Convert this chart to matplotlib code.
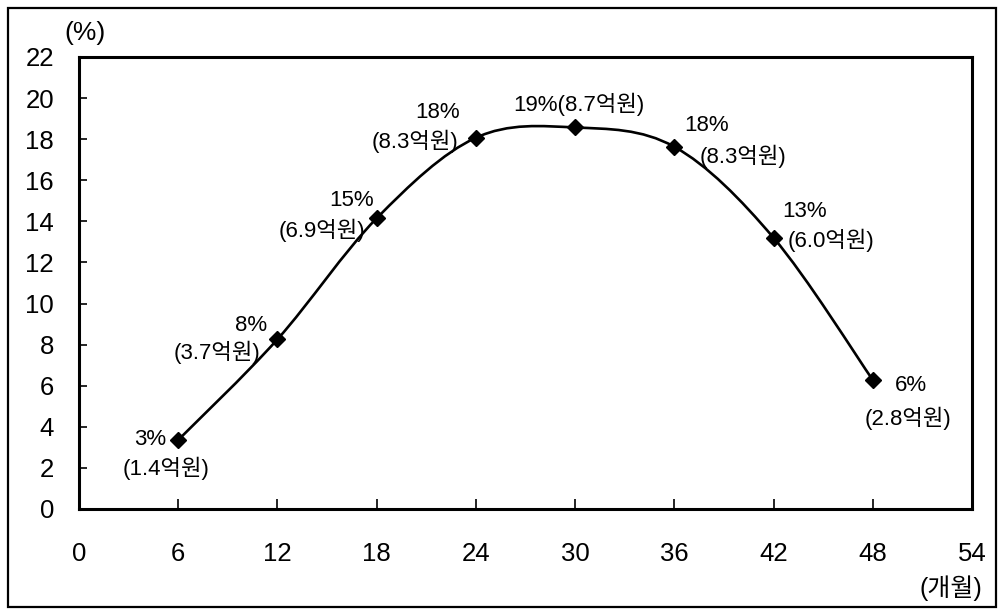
import numpy as np
import matplotlib
matplotlib.use("Agg")
import matplotlib.pyplot as plt
from matplotlib.path import Path
from matplotlib.patches import PathPatch, Rectangle

# ---- data ----
months = [6, 12, 18, 24, 30, 36, 42, 48]
share = [3.36, 8.26, 14.15, 18.07, 18.57, 17.63, 13.2, 6.28]
pct_labels = ["3%", "8%", "15%", "18%", "19%(8.7억원)", "18%", "13%", "6%"]
amt_labels = ["(1.4억원)", "(3.7억원)", "(6.9억원)", "(8.3억원)", "", "(8.3억원)", "(6.0억원)", "(2.8억원)"]
x_ticks = [0, 6, 12, 18, 24, 30, 36, 42, 48, 54]
y_ticks = [0, 2, 4, 6, 8, 10, 12, 14, 16, 18, 20, 22]

# ---- style (label offsets in pixels) ----
pct_off = [(-12, 0, "right"), (-10, 14, "right"), (-3, 18, "right"), (-16, 25, "right"),
           (4, 23, "center"), (10, 21, "left"), (9, 26, "left"), (22, -6, "left")]
amt_off = [(-12, -28, "center"), (-17, -13, "right"), (-11, -12, "right"), (-18, -4, "right"),
           (0, 0, "center"), (25, -10, "left"), (14, -3, "left"), (-8, -38, "left")]

plt.rcParams['font.family'] = ['Liberation Sans', 'Noto Sans CJK KR']

fig = plt.figure(figsize=(9.98, 6.10), dpi=100)
ax = fig.add_axes([79/998, 101/610, (972-79)/998, (509-57)/610])

# smoothed line (Catmull-Rom -> cubic Bezier segments)
P = np.column_stack([months, share]).astype(float)
n = len(P)
verts = [tuple(P[0])]
codes = [Path.MOVETO]
for i in range(n - 1):
    p0 = P[i - 1] if i > 0 else P[i]
    p1 = P[i]
    p2 = P[i + 1]
    p3 = P[i + 2] if i + 2 < n else P[i + 1]
    c1 = p1 + (p2 - p0) / 6.0
    c2 = p2 - (p3 - p1) / 6.0
    verts += [tuple(c1), tuple(c2), tuple(p2)]
    codes += [Path.CURVE4] * 3
ax.add_patch(PathPatch(Path(verts, codes), fill=False, edgecolor='black', lw=1.9, zorder=2))
ax.plot(months, share, linestyle='none', marker='D', markersize=8.5, color='black', zorder=3)

for i, (x, y) in enumerate(zip(months, share)):
    dx, dy, ha = pct_off[i]
    ax.annotate(pct_labels[i], (x, y), xytext=(dx, dy), textcoords='offset pixels',
                ha=ha, va='center', fontsize=16)
    if amt_labels[i]:
        dx, dy, ha = amt_off[i]
        ax.annotate(amt_labels[i], (x, y), xytext=(dx, dy), textcoords='offset pixels',
                    ha=ha, va='center', fontsize=16)

ax.set_xlim(0, 54)
ax.set_ylim(0, 22)
ax.set_xticks(x_ticks)
ax.set_yticks(y_ticks)
ax.set_xticklabels([str(t) for t in x_ticks])
ax.set_yticklabels([str(t) for t in y_ticks])
ax.tick_params(axis='x', direction='in', length=7, width=1.2, pad=24, labelsize=18.5)
ax.tick_params(axis='y', direction='in', length=6, width=1.2, pad=18, labelsize=18.5)
for s in ax.spines.values():
    s.set_linewidth(2.2)

fig.text(85/998, 1 - 33/610, "(%)", ha='center', va='center', fontsize=19)
fig.text(951/998, 1 - 588/610, "(개월)", ha='center', va='center', fontsize=18)

fig.patches.append(Rectangle((8/998, 3/610), 988/998, 599/610, transform=fig.transFigure,
                             fill=False, edgecolor='black', lw=1.6))

fig.savefig("out.png", dpi=100)
